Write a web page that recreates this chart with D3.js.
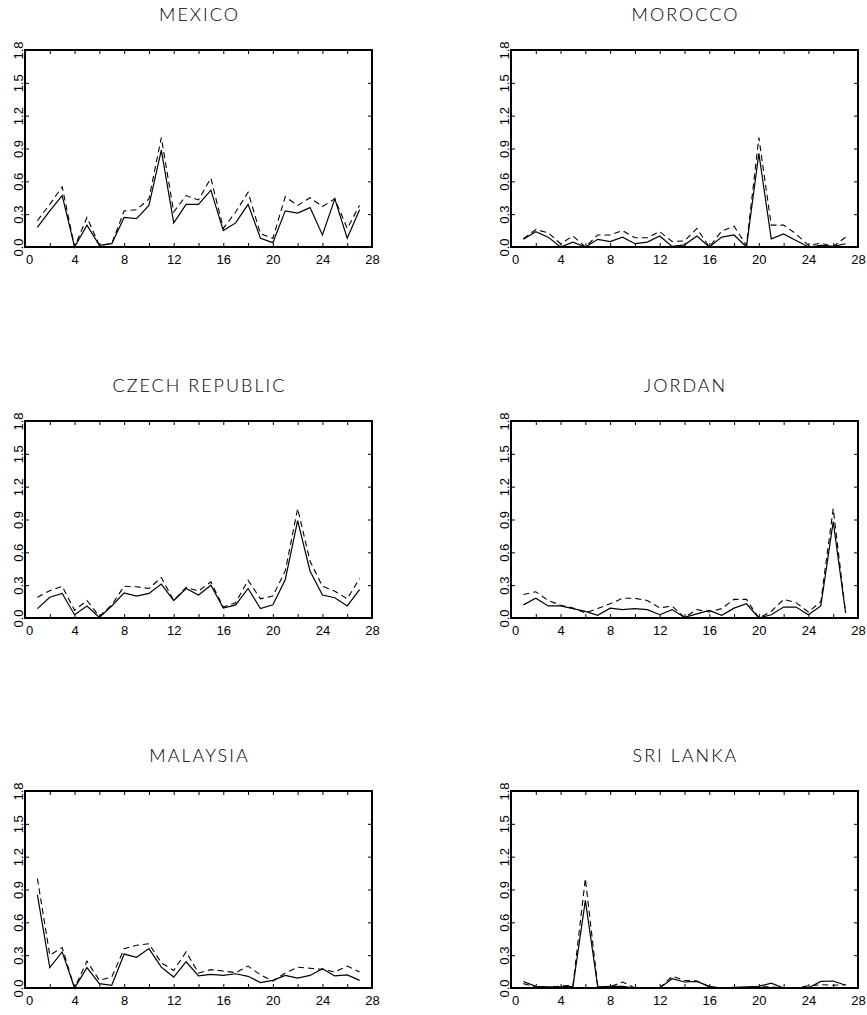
<!DOCTYPE html>
<html><head><meta charset="utf-8">
<script src="https://cdn.jsdelivr.net/npm/d3@7/dist/d3.min.js"></script>
<style>body{margin:0;background:#fff}svg{display:block}</style>
</head><body>
<script>
const countries = ["MEXICO","MOROCCO","CZECH REPUBLIC","JORDAN","MALAYSIA","SRI LANKA"];
const periods = d3.range(1, 28);
const xTicks = [0,4,8,12,16,20,24,28];
const yTicks = [0.0,0.3,0.6,0.9,1.2,1.5,1.8];

const mexicoSolid  = [0.18,0.33,0.47,0.0,0.20,0.015,0.03,0.27,0.26,0.38,0.885,0.22,0.39,0.39,0.52,0.15,0.22,0.39,0.08,0.04,0.33,0.31,0.36,0.11,0.44,0.08,0.34];
const mexicoDashed = [0.24,0.39,0.55,0.0,0.27,0.015,0.03,0.33,0.34,0.44,1.0,0.32,0.47,0.43,0.63,0.17,0.32,0.50,0.12,0.08,0.46,0.38,0.45,0.37,0.44,0.17,0.38];
const moroccoSolid  = [0.07,0.14,0.09,0.0,0.045,0.0,0.07,0.05,0.09,0.03,0.045,0.10,0.005,0.02,0.10,0.0,0.09,0.11,0.0,0.855,0.075,0.12,0.06,0.0,0.015,0.005,0.03];
const moroccoDashed = [0.075,0.16,0.13,0.03,0.10,0.0,0.11,0.11,0.15,0.085,0.085,0.14,0.05,0.055,0.17,0.0,0.145,0.19,0.015,1.0,0.20,0.20,0.12,0.015,0.035,0.005,0.09];
const czechSolid  = [0.086,0.19,0.225,0.03,0.11,0.006,0.11,0.23,0.20,0.225,0.31,0.16,0.27,0.21,0.30,0.09,0.12,0.27,0.086,0.12,0.35,0.89,0.43,0.21,0.185,0.11,0.26];
const czechDashed = [0.19,0.25,0.29,0.07,0.16,0.015,0.12,0.29,0.285,0.27,0.37,0.16,0.28,0.245,0.33,0.10,0.14,0.345,0.175,0.20,0.43,1.0,0.52,0.29,0.245,0.175,0.36];
const jordanSolid  = [0.12,0.18,0.11,0.11,0.085,0.06,0.025,0.09,0.077,0.086,0.077,0.03,0.077,0.006,0.037,0.07,0.025,0.09,0.13,0.0,0.03,0.10,0.10,0.03,0.11,0.88,0.046];
const jordanDashed = [0.215,0.24,0.16,0.117,0.092,0.046,0.086,0.13,0.18,0.18,0.16,0.092,0.11,0.006,0.077,0.055,0.086,0.17,0.17,0.0,0.06,0.17,0.14,0.055,0.15,1.0,0.046];
const malaysiaSolid  = [0.85,0.186,0.33,0.0,0.186,0.04,0.025,0.31,0.28,0.36,0.19,0.10,0.24,0.11,0.125,0.115,0.13,0.107,0.05,0.07,0.115,0.09,0.115,0.177,0.11,0.12,0.07];
const malaysiaDashed = [1.0,0.30,0.37,0.0,0.245,0.07,0.10,0.36,0.39,0.405,0.23,0.16,0.33,0.137,0.168,0.155,0.14,0.20,0.12,0.064,0.137,0.19,0.18,0.17,0.146,0.20,0.146];
const sriLankaSolid  = [0.06,0.015,0.01,0.01,0.015,0.80,0.01,0.015,0.015,0.0,0.0,0.0,0.085,0.055,0.06,0.015,0.0,0.005,0.01,0.015,0.045,0.0,0.0,0.0,0.06,0.064,0.025];
const sriLankaDashed = [0.04,0.01,0.005,0.018,0.025,1.0,0.015,0.01,0.055,0.0,0.0,0.0,0.107,0.07,0.064,0.01,0.0,0.0,0.0,0.01,0.01,0.0,0.0,0.02,0.03,0.025,0.03];

const solidSeries  = [mexicoSolid, moroccoSolid, czechSolid, jordanSolid, malaysiaSolid, sriLankaSolid];
const dashedSeries = [mexicoDashed, moroccoDashed, czechDashed, jordanDashed, malaysiaDashed, sriLankaDashed];

const W = 867, H = 1015;
const svg = d3.select("body").append("svg").attr("width", W).attr("height", H);
const font = "'Liberation Sans', Arial, sans-serif";
const titleFont = "Lato, 'Liberation Sans', sans-serif";

const colLeft = [25, 511];
const rowTop = [50, 421, 791];
const pw = 347, ph = 197;

countries.forEach((name, i) => {
  const col = i % 2, row = Math.floor(i / 2);
  const x0 = colLeft[col], y0 = rowTop[row];
  const g = svg.append("g").attr("transform", `translate(${x0},${y0})`);
  const x = d3.scaleLinear().domain([0, 28]).range([0, pw]);
  const y = d3.scaleLinear().domain([0, 1.8]).range([ph, 0]);

  // title
  g.append("text").attr("x", pw / 2 + 1).attr("y", -29)
    .attr("text-anchor", "middle").attr("font-family", titleFont)
    .attr("font-weight", 300)
    .attr("font-size", 18).attr("letter-spacing", "2px").attr("fill", "#000")
    .text(name);

  const xMinor = d3.range(0, 29, 2);
  const bx = g.append("g").attr("transform", `translate(0,${ph})`)
    .call(d3.axisBottom(x).tickValues(xMinor).tickSize(-4).tickPadding(8)
      .tickFormat(d => xTicks.includes(d) ? d3.format("d")(d) : ""));
  bx.selectAll("text").attr("font-family", font).attr("font-size", 13).attr("fill", "#000")
    .attr("dx", d => d === 0 ? 4 : 0);
  g.append("g").call(d3.axisTop(x).tickValues(xMinor).tickSize(-4).tickFormat(""));
  const ly = g.append("g")
    .call(d3.axisLeft(y).tickValues(yTicks).tickSize(-4).tickFormat(d3.format(".1f")));
  ly.selectAll("text").attr("font-family", font).attr("font-size", 13).attr("fill", "#000")
    .attr("x", null).attr("dy", null).attr("text-anchor", "middle")
    .attr("transform", `translate(-2,0) rotate(-90)`);
  g.append("g").attr("transform", `translate(${pw},0)`)
    .call(d3.axisRight(y).tickValues(yTicks).tickSize(-4).tickFormat(""));

  g.selectAll(".domain").remove();
  g.selectAll(".tick line").attr("stroke", "#000").attr("stroke-width", 1);

  g.append("rect").attr("x", 0).attr("y", 0).attr("width", pw).attr("height", ph)
    .attr("fill", "none").attr("stroke", "#000").attr("stroke-width", 2);

  const line = d3.line().x((d, k) => x(periods[k])).y(d => y(d));
  g.append("path").datum(dashedSeries[i]).attr("d", line)
    .attr("fill", "none").attr("stroke", "#000").attr("stroke-width", 1.1)
    .attr("stroke-dasharray", "6,4");
  g.append("path").datum(solidSeries[i]).attr("d", line)
    .attr("fill", "none").attr("stroke", "#000").attr("stroke-width", 1.2);
});
</script>
</body></html>
